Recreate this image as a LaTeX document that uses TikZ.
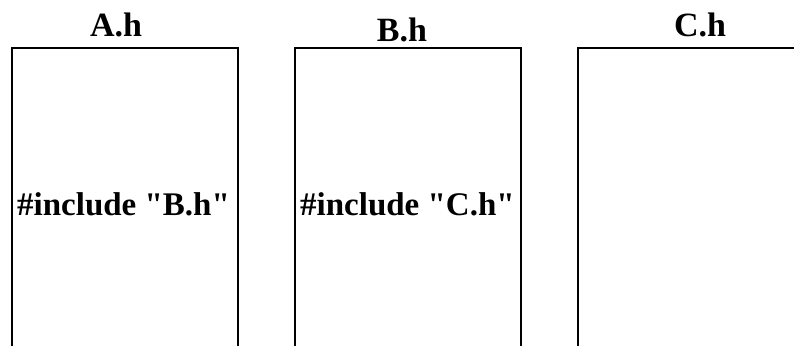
\documentclass[tikz,border=0pt]{standalone}
\usepackage{fontspec}
\setmainfont[Ligatures=TeXOff]{Liberation Serif}
\begin{document}
\begin{tikzpicture}[x=1pt,y=-1pt,
  filebox/.style={draw=black,line width=2pt,line join=miter},
  title/.style={font=\fontsize{34}{36}\selectfont\bfseries,inner sep=0pt,anchor=base},
  code/.style={font=\fontsize{33}{36}\selectfont\bfseries,inner sep=0pt,anchor=base west}]
  \useasboundingbox (0,0) rectangle (794,345);
  \clip (0,0) rectangle (794,345);
  % header files drawn as tall boxes running off the page
  \draw[filebox] (12,400) -- (12,48) -- (238,48) -- (238,400);
  \draw[filebox] (295,400) -- (295,48) -- (521,48) -- (521,400);
  \draw[filebox] (578,400) -- (578,48) -- (820,48);
  % file names
  \node[title] (ta) at (116,37) {A.h};
  \node[title] (tb) at (402,41.5) {B.h};
  \node[title] (tc) at (700,37) {C.h};
  % contents
  \node[code] (ia) at (17,215) {\#include "B.h"};
  \node[code] (ib) at (300,215) {\#include "C.h"};
\end{tikzpicture}
\end{document}
